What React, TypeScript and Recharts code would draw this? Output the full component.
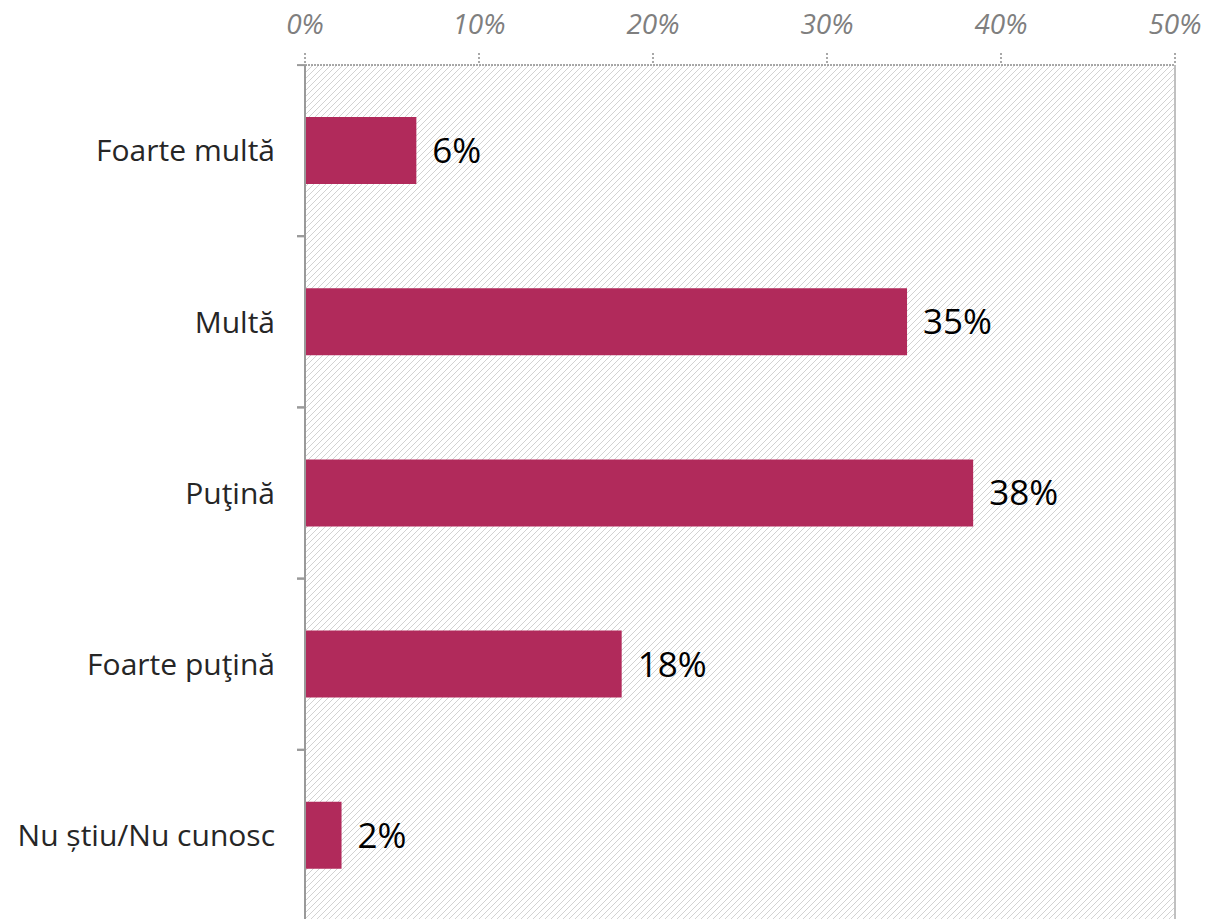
import { Bar, BarChart, CartesianGrid, LabelList, ReferenceLine, XAxis, YAxis } from "recharts";

const categories = ["Foarte multă", "Multă", "Puţină", "Foarte puţină", "Nu știu/Nu cunosc"];
const shares = [6.4, 34.6, 38.4, 18.2, 2.1];
const shareLabels = ["6%", "35%", "38%", "18%", "2%"];
const xTicks = [0, 10, 20, 30, 40, 50];

const data = categories.map((name, i) => ({ name, value: shares[i], label: shareLabels[i] }));

const FONT = "'Open Sans', 'DejaVu Sans', sans-serif";
const BAND = 171; // plot height / number of categories

function CategoryTick(props: any) {
  const { x, y, payload } = props;
  return (
    <g>
      <line x1={x + 22} x2={x + 30} y1={y - BAND / 2} y2={y - BAND / 2} stroke="#9a9a9a" strokeWidth={2} />
      <line x1={x + 22} x2={x + 30} y1={y + BAND / 2} y2={y + BAND / 2} stroke="#9a9a9a" strokeWidth={2} />
      <text x={x} y={y} dy="0.36em" textAnchor="end" fontSize={30} fill="#262626" fontFamily={FONT}>
        {payload.value}
      </text>
    </g>
  );
}

export default function App() {
  return (
    <div style={{ position: "absolute", left: 0, top: 0, width: 1210, height: 919, overflow: "hidden", background: "#fff" }}>
      <BarChart
        width={1210}
        height={921}
        data={data}
        layout="vertical"
        margin={{ top: 0, right: 35, bottom: 0, left: 0 }}
        barCategoryGap={0}
      >
        <defs>
          <pattern id="hatch" patternUnits="userSpaceOnUse" width={6} height={6}>
            <path d="M-1,1 l2,-2 M0,6 l6,-6 M5,7 l2,-2" stroke="#d2d2d2" strokeWidth={1} />
          </pattern>
        </defs>
        <CartesianGrid horizontal={false} vertical={false} fill="url(#hatch)" />
        <XAxis
          type="number"
          orientation="top"
          domain={[0, 50]}
          ticks={xTicks}
          tickFormatter={(v) => `${v}%`}
          height={65}
          tickSize={12}
          tickMargin={19}
          axisLine={{ stroke: "#8c8c8c", strokeWidth: 1.5, strokeDasharray: "2 1" }}
          tickLine={{ stroke: "#8c8c8c", strokeWidth: 1.5, strokeDasharray: "2 2" }}
          tick={{ fontSize: 28, fill: "#7f7f7f", fontStyle: "italic", fontFamily: FONT }}
          interval={0}
        />
        <YAxis
          type="category"
          dataKey="name"
          width={305}
          tickSize={8}
          tickMargin={22}
          axisLine={{ stroke: "#9a9a9a", strokeWidth: 2 }}
          tickLine={{ stroke: "none" }}
          tick={<CategoryTick />}
          interval={0}
        />
        <ReferenceLine x={50} stroke="#c0c0c0" strokeWidth={2} />
        <Bar dataKey="value" fill="#b12a5b" barSize={67} isAnimationActive={false}>
          <LabelList
            dataKey="label"
            position="right"
            offset={16}
            style={{ fontSize: 35, fill: "#000", fontFamily: FONT }}
          />
        </Bar>
      </BarChart>
    </div>
  );
}
